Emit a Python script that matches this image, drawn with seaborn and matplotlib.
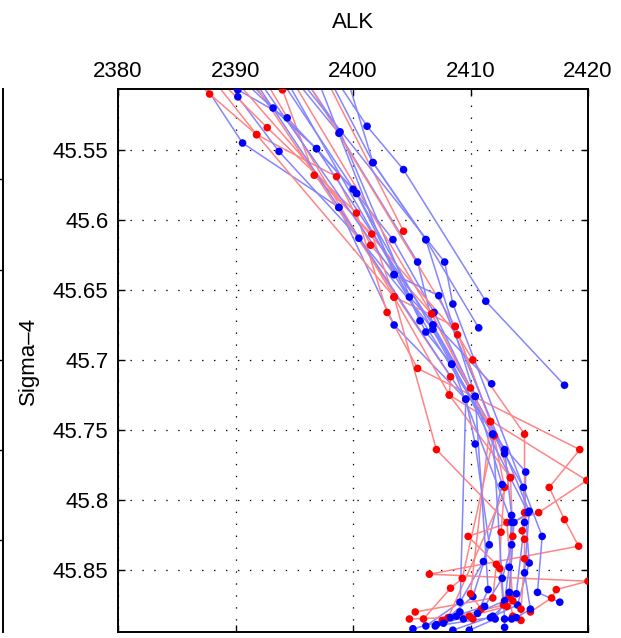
import pandas as pd
import seaborn as sns
import matplotlib.pyplot as plt

# ── Perfiles (ALK, Sigma-4) ──────────────────────────────────────────────────
# el primer punto de cada perfil queda justo por encima del eje (sin botella)

azul_01 = [(2387.4, 45.504), (2390.6, 45.545), (2398.8, 45.591), (2403.5, 45.675), (2409.6, 45.728),
           (2410.4, 45.760), (2411.6, 45.832), (2410.2, 45.869), (2407.8, 45.886), (2405.1, 45.892)]
azul_02 = [(2389.7, 45.504), (2390.2, 45.512), (2393.7, 45.551), (2400.5, 45.613), (2406.8, 45.678),
           (2410.4, 45.726), (2412.7, 45.789), (2411.1, 45.844), (2409.1, 45.873), (2406.2, 45.890)]
azul_03 = [(2390.0, 45.504), (2390.2, 45.507), (2394.4, 45.527), (2400.0, 45.578), (2403.4, 45.614),
           (2406.9, 45.666), (2411.9, 45.753), (2414.7, 45.780), (2414.6, 45.816), (2413.9, 45.867),
           (2411.9, 45.883), (2408.5, 45.893)]
azul_04 = [(2391.5, 45.504), (2393.2, 45.520), (2396.9, 45.549), (2400.3, 45.581), (2406.2, 45.680),
           (2408.4, 45.703), (2412.9, 45.767), (2414.5, 45.791), (2415.0, 45.845), (2414.0, 45.875),
           (2411.7, 45.884), (2407.0, 45.890)]
azul_05 = [(2395.5, 45.504), (2398.8, 45.538), (2405.5, 45.630), (2406.8, 45.675), (2412.9, 45.764),
           (2413.5, 45.811), (2413.3, 45.848), (2412.9, 45.872), (2409.4, 45.885)]
azul_06 = [(2398.9, 45.504), (2401.2, 45.533), (2404.3, 45.564), (2411.3, 45.658), (2418.0, 45.718)]
azul_07 = [(2398.3, 45.504), (2401.7, 45.559), (2406.2, 45.614), (2410.7, 45.677)]
azul_08 = [(2396.3, 45.504), (2398.9, 45.537), (2405.7, 45.672)]
azul_09 = [(2394.6, 45.504), (2404.8, 45.655), (2411.8, 45.717)]
azul_10 = [(2392.3, 45.504), (2403.5, 45.639), (2407.3, 45.654), (2415.0, 45.808), (2414.6, 45.852),
           (2415.1, 45.878), (2413.9, 45.884), (2413.5, 45.885)]
azul_11 = [(2395.9, 45.504), (2407.8, 45.630), (2408.5, 45.660), (2416.1, 45.826), (2415.7, 45.866),
           (2417.6, 45.873)]
azul_12 = [(2391.1, 45.504), (2396.9, 45.549), (2406.8, 45.675), (2414.9, 45.809), (2413.7, 45.816),
           (2413.3, 45.866), (2412.1, 45.885), (2409.9, 45.893)]
azul_13 = [(2394.2, 45.504), (2400.3, 45.581), (2408.4, 45.703), (2413.5, 45.816), (2413.5, 45.832),
           (2412.7, 45.856), (2411.2, 45.876), (2408.3, 45.884)]
azul_14 = [(2399.7, 45.504), (2401.7, 45.559), (2406.2, 45.614), (2410.4, 45.726), (2411.5, 45.864),
           (2410.6, 45.881), (2407.7, 45.888)]
azul_15 = [(2391.9, 45.504), (2398.8, 45.591), (2409.6, 45.728), (2409.1, 45.880), (2408.8, 45.883),
           (2407.1, 45.889)]
azul_16 = [(2397.2, 45.504), (2403.5, 45.639), (2411.9, 45.753), (2412.9, 45.885), (2412.9, 45.891)]

rojo_01 = [(2387.0, 45.504), (2387.8, 45.510), (2391.8, 45.539), (2398.6, 45.569), (2401.5, 45.618),
           (2406.7, 45.667), (2410.0, 45.720), (2412.0, 45.754), (2412.9, 45.791), (2412.6, 45.823),
           (2412.5, 45.849), (2412.8, 45.875), (2407.6, 45.886)]
rojo_02 = [(2393.9, 45.504), (2394.0, 45.507), (2396.7, 45.568), (2401.6, 45.610), (2403.5, 45.655),
           (2408.7, 45.676), (2411.7, 45.744), (2413.4, 45.784), (2413.6, 45.826), (2413.3, 45.869),
           (2413.6, 45.883)]
rojo_03 = [(2389.1, 45.504), (2392.7, 45.534), (2400.3, 45.595), (2402.9, 45.666), (2405.5, 45.706),
           (2419.3, 45.764), (2416.7, 45.791), (2418.0, 45.814), (2419.2, 45.833), (2406.5, 45.853),
           (2420.0, 45.858), (2417.3, 45.864), (2416.9, 45.870), (2415.1, 45.880)]
rojo_04 = [(2398.0, 45.504), (2404.3, 45.608)]
rojo_05 = [(2390.4, 45.504), (2408.9, 45.682), (2410.2, 45.700), (2414.6, 45.753), (2414.6, 45.809),
           (2414.4, 45.822), (2414.6, 45.828), (2414.6, 45.842), (2414.3, 45.878), (2414.3, 45.886)]
rojo_06 = [(2391.7, 45.504), (2408.3, 45.712), (2408.2, 45.725), (2419.9, 45.786), (2415.8, 45.809),
           (2409.8, 45.826), (2412.2, 45.846), (2411.9, 45.870), (2405.3, 45.880)]
rojo_07 = [(2392.8, 45.504), (2403.5, 45.655), (2407.1, 45.764), (2413.1, 45.816), (2413.6, 45.872),
           (2413.1, 45.876), (2409.9, 45.883)]
rojo_08 = [(2395.1, 45.504), (2406.7, 45.667), (2412.0, 45.754), (2409.3, 45.856), (2408.3, 45.863),
           (2406.0, 45.885)]
rojo_09 = [(2396.3, 45.504), (2408.7, 45.676), (2411.7, 45.744), (2410.0, 45.867), (2410.9, 45.878),
           (2410.2, 45.885)]
rojo_10 = [(2388.5, 45.504), (2391.8, 45.539), (2403.5, 45.655), (2408.2, 45.725), (2413.4, 45.784),
           (2408.1, 45.884), (2404.8, 45.885)]

x_ticks = [2380, 2390, 2400, 2410, 2420]
y_ticks = [45.55, 45.6, 45.65, 45.7, 45.75, 45.8, 45.85]
y_tick_labels = ["45.55", "45.6", "45.65", "45.7", "45.75", "45.8", "45.85"]

# ── Tabla larga (perfil, grupo, orden, ALK, Sigma4) ──────────────────────────
azules = [azul_01, azul_02, azul_03, azul_04, azul_05, azul_06, azul_07, azul_08,
          azul_09, azul_10, azul_11, azul_12, azul_13, azul_14, azul_15, azul_16]
rojos = [rojo_01, rojo_02, rojo_03, rojo_04, rojo_05, rojo_06, rojo_07, rojo_08,
         rojo_09, rojo_10]

filas = []
for grupo, perfiles in (("azul", azules), ("rojo", rojos)):
    for i, pts in enumerate(perfiles):
        for j, (alk, sig) in enumerate(pts):
            filas.append((f"{grupo}_{i}", grupo, j, alk, sig))
df = pd.DataFrame(filas, columns=["perfil", "grupo", "orden", "ALK", "Sigma4"])

# intercalamos azul/rojo para que ningún color tape siempre al otro
orden_perfiles = []
for k in range(max(len(azules), len(rojos))):
    if k < len(azules):
        orden_perfiles.append(f"azul_{k}")
    if k < len(rojos):
        orden_perfiles.append(f"rojo_{k}")

color_linea = {"azul": "#8585ff", "rojo": "#ff8585"}
color_punto = {"azul": "#0000ff", "rojo": "#ff0000"}

# ── Figura ───────────────────────────────────────────────────────────────────
sns.set_style("white")
plt.rcParams["font.family"] = ["Liberation Sans", "DejaVu Sans"]
plt.rcParams["lines.scale_dashes"] = False
plt.rcParams["text.color"] = "k"
plt.rcParams["axes.labelcolor"] = "k"

fig = plt.figure(figsize=(6.21, 6.38), dpi=100)
ax = fig.add_axes([118 / 621, 6 / 638, 470 / 621, 543 / 638])

for p in orden_perfiles:
    d = df[df["perfil"] == p]
    sns.lineplot(data=d, x="ALK", y="Sigma4", sort=False, estimator=None,
                 color=color_linea[d["grupo"].iloc[0]], lw=1.1, ax=ax, legend=False)

puntos = df[df["Sigma4"] > 45.505].copy()
puntos["k"] = puntos["perfil"].map({p: i for i, p in enumerate(orden_perfiles)})
puntos = puntos.sort_values(["k", "orden"])
sns.scatterplot(data=puntos, x="ALK", y="Sigma4", hue="grupo", palette=color_punto,
                s=30, linewidth=0, legend=False, ax=ax, zorder=3)

ax.set_xlim(2380, 2420)
ax.set_ylim(45.8943, 45.5064)
ax.xaxis.tick_top()
ax.xaxis.set_label_position("top")
ax.set_xticks(x_ticks)
ax.set_yticks(y_ticks)
ax.set_yticklabels(y_tick_labels)
ax.tick_params(direction="in", length=5, width=1, top=True, bottom=True, left=True, right=True,
               labeltop=True, labelbottom=False, labelsize=16, colors="k")
ax.tick_params(axis="x", pad=5)
ax.tick_params(axis="y", pad=7)
ax.grid(True, color="k", lw=0.9, ls=(0, (1, 7.6)))
for s in ax.spines.values():
    s.set_color("k")
    s.set_linewidth(1.4)
ax.set_xlabel("ALK", fontsize=16, labelpad=24, color="k")
ax.set_ylabel("Sigma\u20134", fontsize=16, labelpad=10, color="k")

# borde del panel vecino que asoma por la izquierda
lax = fig.add_axes([-0.3, 6 / 638, 0.3 + 3 / 621, 543 / 638])
lax.patch.set_visible(False)
for s in ["top", "bottom", "left"]:
    lax.spines[s].set_visible(False)
lax.spines["right"].set_linewidth(1.4)
lax.spines["right"].set_color("k")
lax.set_xticks([])
lax.set_ylim(0, 1)
lax.yaxis.tick_right()
lax.set_yticks([0.169, 0.335, 0.501, 0.667, 0.834])
lax.set_yticklabels([])
lax.tick_params(axis="y", direction="in", length=5, width=1, colors="k")

fig.savefig("out.png", dpi=100)
